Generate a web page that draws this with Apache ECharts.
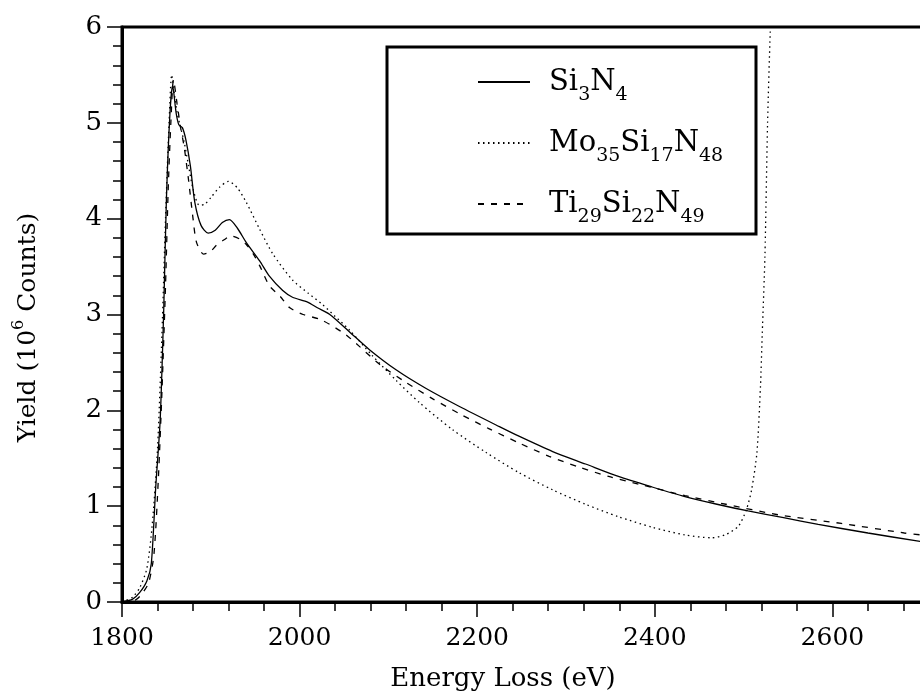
<!DOCTYPE html>
<html>
<head>
<meta charset="utf-8">
<script src="https://cdn.jsdelivr.net/npm/echarts@6/dist/echarts.min.js"></script>
<style>
  html, body { margin: 0; padding: 0; background: #fff; }
  #chart { width: 920px; height: 699px; }
</style>
</head>
<body>
<div id="chart"></div>
<script>
// Si3N4 (solid)
var siE = [1800,1812,1820,1828,1833,1838,1843,1847,1850,1854,1857,1861,1864,1868,1872,1877,1882,1889,1897,1905,1913,1921,1930,1940,1955,1966,1981,1992,2009,2020,2034,2056,2079,2109,2142,2180,2225,2247,2285,2322,2359,2397,2434,2470,2505,2545,2584,2640,2700];
var siY = [0,0.03,0.1,0.22,0.4,1.2,1.9,3.05,4.2,5.1,5.39,5.1,4.98,4.95,4.82,4.55,4.17,3.93,3.85,3.88,3.96,3.99,3.9,3.75,3.56,3.4,3.25,3.18,3.13,3.07,3.0,2.82,2.63,2.42,2.23,2.04,1.83,1.73,1.57,1.44,1.31,1.2,1.1,1.02,0.95,0.88,0.81,0.72,0.63];

// Mo35Si17N48 (dotted)
var moE = [1800,1805,1812,1820,1828,1834,1840,1845,1849,1853,1856,1859,1862,1866,1870,1875,1880,1887,1893,1900,1910,1920,1930,1940,1955,1970,1992,2010,2025,2040,2056,2082,2109,2135,2172,2210,2247,2285,2322,2359,2397,2434,2464,2479,2494,2503,2509,2515,2519,2521,2524,2527,2530,2534];
var moY = [0,0.02,0.05,0.15,0.35,0.8,1.6,2.8,4.0,5.0,5.5,5.3,5.11,4.95,4.8,4.55,4.31,4.14,4.15,4.22,4.33,4.39,4.32,4.17,3.89,3.63,3.36,3.22,3.11,2.98,2.84,2.57,2.31,2.08,1.8,1.56,1.35,1.17,1.02,0.89,0.78,0.7,0.67,0.7,0.79,0.96,1.17,1.56,2.25,2.8,3.6,5.0,5.95,7.0];

// Ti29Si22N49 (dashed)
var tiE = [1800,1815,1822,1830,1836,1841,1845,1849,1852,1855,1858,1862,1866,1870,1875,1880,1884,1892,1900,1906,1915,1923,1932,1940,1948,1955,1966,1978,1989,2004,2023,2037,2052,2067,2090,2120,2150,2183,2213,2247,2281,2314,2348,2382,2434,2480,2539,2610,2681,2700];
var tiY = [0,0.02,0.08,0.2,0.5,1.3,2.2,3.3,4.3,5.0,5.45,5.2,4.95,4.75,4.4,4.0,3.75,3.63,3.66,3.72,3.78,3.82,3.79,3.73,3.63,3.51,3.3,3.19,3.07,3.0,2.95,2.88,2.79,2.67,2.48,2.29,2.12,1.95,1.81,1.66,1.52,1.41,1.31,1.23,1.11,1.02,0.91,0.82,0.72,0.7];

var names = ['Si3N4', 'Mo35Si17N48', 'Ti29Si22N49'];
var legendRich = {
  'Si3N4': '{g| }{m|Si}{s|3}{m|N}{s|4}',
  'Mo35Si17N48': '{g| }{m|Mo}{s|35}{m|Si}{s|17}{m|N}{s|48}',
  'Ti29Si22N49': '{g| }{m|Ti}{s|29}{m|Si}{s|22}{m|N}{s|49}'
};

function pairs(xs, ys) {
  var out = [];
  for (var i = 0; i < xs.length; i++) out.push([xs[i], ys[i]]);
  return out;
}

var font = 'DejaVu Serif';
var chart = echarts.init(document.getElementById('chart'));

var option = {
  backgroundColor: '#fff',
  animation: false,
  grid: {
    left: 122, top: 27, bottom: 97, width: 888,
    outerBoundsMode: 'none', containLabel: false,
    show: true, borderColor: '#000', borderWidth: 3, backgroundColor: 'transparent'
  },
  legend: {
    orient: 'vertical',
    left: 477, top: 67, padding: 0,
    itemWidth: 52, itemHeight: 14, itemGap: 22,
    data: names,
    itemStyle: { opacity: 0 },
    formatter: function (n) { return legendRich[n]; },
    textStyle: {
      color: '#000',
      rich: {
        g: { width: 14, fontSize: 10 },
        m: { fontFamily: font, fontSize: 29, color: '#000', height: 30, lineHeight: 30, verticalAlign: 'middle' },
        s: { fontFamily: font, fontSize: 19, color: '#000', height: 22, lineHeight: 48, verticalAlign: 'bottom' }
      }
    }
  },
  graphic: [{
    type: 'rect', z: 1,
    shape: { x: 387, y: 47, width: 369, height: 187 },
    style: { fill: 'transparent', stroke: '#000', lineWidth: 3 }
  }],
  xAxis: {
    type: 'value', min: 1800, max: 2800, interval: 200,
    name: 'Energy Loss (eV)', nameLocation: 'middle', nameGap: 64,
    nameTextStyle: { fontFamily: font, fontSize: 26, color: '#000', padding: [0, 126, 0, 0] },
    axisLine: { show: true, lineStyle: { color: '#000', width: 3 } },
    axisTick: { show: true, inside: false, length: 15, lineStyle: { color: '#000', width: 1.5 } },
    minorTick: { show: true, splitNumber: 5, length: 9, lineStyle: { color: '#000', width: 1.5 } },
    axisLabel: {
      fontFamily: font, fontSize: 25, color: '#000', margin: 24,
      formatter: function (v) { return String(v); }
    },
    splitLine: { show: false }
  },
  yAxis: {
    type: 'value', min: 0, max: 6, interval: 1,
    name: '{m|Yield (10}{p|6}{m| Counts)}', nameLocation: 'middle', nameGap: 80,
    nameRotate: 90,
    nameTextStyle: {
      padding: [0, 26, 0, 0],
      rich: {
        m: { fontFamily: font, fontSize: 25, color: '#000', height: 28, lineHeight: 28, verticalAlign: 'bottom' },
        p: { fontFamily: font, fontSize: 16, color: '#000', height: 46, lineHeight: 46, verticalAlign: 'bottom' }
      }
    },
    axisLine: { show: true, lineStyle: { color: '#000', width: 3 } },
    axisTick: { show: true, inside: false, length: 15, lineStyle: { color: '#000', width: 1.5 } },
    minorTick: { show: true, splitNumber: 5, length: 9, lineStyle: { color: '#000', width: 1.5 } },
    axisLabel: { fontFamily: font, fontSize: 26, color: '#000', margin: 20 },
    splitLine: { show: false }
  },
  series: [
    {
      name: names[0], type: 'line', data: pairs(siE, siY),
      symbol: 'none', smooth: 0.25, clip: true,
      lineStyle: { color: '#000', width: 1.3, type: 'solid' }, itemStyle: { color: '#000' }
    },
    {
      name: names[1], type: 'line', data: pairs(moE, moY),
      symbol: 'none', smooth: 0.25, clip: true,
      lineStyle: { color: '#000', width: 1.3, type: [1.5, 3.5] }, itemStyle: { color: '#000' }
    },
    {
      name: names[2], type: 'line', data: pairs(tiE, tiY),
      symbol: 'none', smooth: 0.25, clip: true,
      lineStyle: { color: '#000', width: 1.3, type: [6, 7] }, itemStyle: { color: '#000' }
    }
  ]
};

option && chart.setOption(option);
</script>
</body>
</html>
